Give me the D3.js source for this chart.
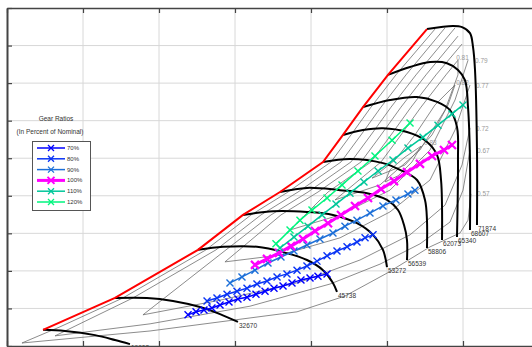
<!DOCTYPE html>
<html>
<head>
<meta charset="utf-8">
<script src="https://cdn.jsdelivr.net/npm/d3@7/dist/d3.min.js"></script>
<style>
  body { margin: 0; background: #fff; }
  svg { display: block; font-family: "Liberation Sans", Arial, sans-serif; }
</style>
</head>
<body>
<div id="chart"></div>
<script>
// compressor map: corrected flow (x) vs pressure ratio (y)
var flowTicks = [0, 10, 20, 30, 40, 50, 60, 70];
var prTicks = [1, 2, 3, 4, 5, 6, 7, 8, 9, 10];

// surge line
var surge = [[4.74,1.43],[14.21,2.28],[25.13,3.56],[31.05,4.49],[35.92,5.10],[41.58,5.90],[44.21,6.62],[46.84,7.36],[50.13,8.22],[55.26,9.44]];

// speed lines (rpm)
var speedNames = ["19602","32670","45738","53272","56539","58806","62073","65340","68607","71874"];
var speed19602 = [[4.74,1.43],[7.63,1.40],[11.58,1.29],[14.21,1.16],[16.18,1.05]];
var speed32670 = [[14.21,2.28],[18.42,2.28],[21.84,2.20],[25.39,2.04],[28.03,1.85],[30.39,1.64]];
var speed45738 = [[25.13,3.56],[28.42,3.64],[32.89,3.64],[36.32,3.50],[39.47,3.29],[41.58,3.02],[42.89,2.68],[43.42,2.44]];
var speed53272 = [[31.05,4.49],[35.0,4.59],[39.47,4.57],[42.89,4.49],[46.05,4.27],[48.16,3.96],[49.47,3.56],[50.0,3.10]];
var speed56539 = [[35.92,5.10],[39.47,5.21],[43.82,5.15],[47.37,5.07],[50.0,4.89],[51.45,4.62],[52.24,4.22],[52.63,3.82],[52.63,3.29]];
var speed58806 = [[41.58,5.90],[45.13,5.98],[49.47,5.87],[51.71,5.69],[53.95,5.42],[55.0,4.89],[55.26,4.35],[55.26,3.61]];
var speed62073 = [[44.21,6.62],[46.84,6.75],[49.47,6.80],[52.63,6.70],[55.0,6.48],[56.58,6.09],[57.11,5.42],[57.24,4.70],[57.24,3.82]];
var speed65340 = [[46.84,7.36],[50.39,7.55],[53.95,7.63],[56.58,7.50],[58.29,7.28],[59.21,6.83],[59.34,5.95],[59.21,3.90]];
var speed68607 = [[50.13,8.22],[53.03,8.43],[55.66,8.56],[57.89,8.53],[59.34,8.35],[60.26,8.08],[60.66,7.36],[60.92,5.95],[60.92,4.09]];
var speed71874 = [[55.26,9.44],[58.68,9.52],[59.87,9.49],[60.92,9.33],[61.32,8.96],[61.58,8.35],[61.84,6.22],[61.84,4.22]];

// efficiency contours
var effNames = ["0.57","0.67","0.72","0.77","0.79","0.81","0.82","0.83"];
var effLabelPos = [[61.84,4.99],[61.84,6.14],[61.71,6.72],[61.71,7.87],[61.58,8.53],[59.1,8.61],[59.1,7.95],[54.87,6.35]];
var eff057 = [[56.32,9.44],[51.18,8.22],[47.89,7.36],[45.26,6.62],[42.63,5.90],[36.97,5.10],[32.11,4.49],[26.18,3.56],[15.26,2.28],[6.97,1.51],[1.97,1.08],[18.82,1.40],[38.16,1.91],[44.47,2.33],[50.0,2.94],[55.66,3.64],[59.61,4.01],[60.66,4.35],[61.05,5.05]];
var eff067 = [[57.63,9.47],[52.5,8.22],[49.21,7.36],[46.58,6.62],[43.95,5.90],[38.29,5.10],[33.42,4.49],[27.5,3.56],[16.58,2.28],[6.32,1.27],[18.82,1.59],[31.97,2.06],[42.5,2.65],[49.08,3.18],[54.34,3.72],[58.29,4.30],[60.0,5.15],[60.92,6.22]];
var eff072 = [[58.95,9.47],[53.82,8.22],[50.53,7.36],[47.89,6.62],[45.26,5.90],[39.61,5.10],[34.74,4.49],[28.82,3.56],[17.89,1.83],[28.03,2.22],[38.55,2.70],[46.45,3.29],[53.03,3.96],[57.63,4.75],[59.87,5.82],[60.92,6.80]];
var eff077 = [[59.34,9.25],[55.13,8.22],[51.84,7.36],[49.21,6.62],[46.58,5.90],[40.92,5.10],[36.05,4.49],[28.68,3.24],[35.92,3.42],[43.82,3.88],[50.39,4.57],[55.66,5.42],[58.95,6.75],[60.92,7.95]];
var eff079 = [[59.87,9.04],[56.45,8.22],[53.16,7.36],[50.53,6.62],[47.89,5.90],[42.24,5.10],[37.24,4.09],[43.82,4.49],[50.39,5.15],[55.66,6.22],[58.95,7.55],[60.66,8.61]];
var eff081 = [[59.34,8.61],[57.76,8.22],[54.47,7.36],[51.84,6.62],[49.21,5.90],[43.16,4.89],[49.08,5.29],[54.34,6.22],[57.63,7.28],[59.34,8.22],[59.34,8.61]];
var eff082 = [[58.95,7.95],[56.32,7.42],[53.68,6.62],[51.05,5.95],[48.03,5.47],[52.37,5.82],[55.92,6.62],[58.03,7.42],[58.95,7.95]];
var eff083 = [[54.47,6.32],[52.37,6.03],[50.39,5.69],[49.74,5.37],[51.45,5.53],[53.29,5.90],[54.47,6.32]];

// operating lines for each gear ratio
var gearNames = ["70%","80%","90%","100%","110%","120%"];
var gear70 = [[23.82,1.83],[24.87,1.91],[25.92,1.96],[26.97,2.01],[28.03,2.09],[29.21,2.17],[30.39,2.25],[31.58,2.30],[32.76,2.38],[33.95,2.46],[35.13,2.54],[36.32,2.60],[37.5,2.68],[38.68,2.76],[39.87,2.81],[40.92,2.86],[42.11,2.92]];
var gear80 = [[26.32,2.20],[27.63,2.28],[28.95,2.38],[30.26,2.46],[31.58,2.54],[32.89,2.65],[34.21,2.73],[35.53,2.84],[36.84,2.92],[38.16,3.02],[39.47,3.13],[40.79,3.26],[42.11,3.40],[43.42,3.53],[44.74,3.64],[46.05,3.77],[47.11,3.88],[48.16,3.96]];
var gear90 = [[29.34,2.68],[30.92,2.84],[32.63,3.02],[34.34,3.21],[36.05,3.37],[37.76,3.53],[39.47,3.69],[41.18,3.85],[42.89,4.01],[44.47,4.19],[46.05,4.35],[47.76,4.54],[49.47,4.73],[51.18,4.89],[52.76,5.05],[53.68,5.15]];
var gear100 = [[32.63,3.16],[34.21,3.32],[35.79,3.48],[37.37,3.66],[38.95,3.85],[40.53,4.06],[42.24,4.27],[43.95,4.49],[45.79,4.73],[47.5,4.94],[49.21,5.18],[50.92,5.39],[52.63,5.63],[54.34,5.85],[55.92,6.06],[57.5,6.22],[58.55,6.35]];
var gear110 = [[35.92,3.61],[37.76,3.90],[39.61,4.19],[41.45,4.49],[43.29,4.78],[45.13,5.07],[46.97,5.37],[48.82,5.66],[50.79,5.95],[52.76,6.27],[54.74,6.56],[56.71,6.88],[58.55,7.18],[60.0,7.42]];
var gear120 = [[35.39,3.72],[37.24,4.09],[38.55,4.35],[40.13,4.62],[42.11,4.94],[44.08,5.29],[46.18,5.66],[48.42,6.06],[50.66,6.48],[53.03,6.94]];

var gearColors = ["#0000ff", "#0a34f5", "#1c6fd8", "#ff00ff", "#00c79a", "#00f57e"];

var width = 532, height = 347;

var x = d3.scaleLinear().domain([0, 70]).range([7, 539]);
var y = d3.scaleLinear().domain([1, 10]).range([346, 8]);

var svg = d3.select("#chart")
  .append("svg")
  .attr("width", width)
  .attr("height", height);

// grid
svg.append("g")
  .selectAll("line")
  .data(flowTicks.slice(1))
  .join("line")
    .attr("x1", d => x(d)).attr("x2", d => x(d))
    .attr("y1", y(10)).attr("y2", y(1))
    .attr("stroke", "#d8d8d8").attr("stroke-width", 1);

svg.append("g")
  .selectAll("line")
  .data(prTicks.slice(1, -1))
  .join("line")
    .attr("x1", x(0)).attr("x2", width)
    .attr("y1", d => y(d)).attr("y2", d => y(d))
    .attr("stroke", "#d8d8d8").attr("stroke-width", 1);

var line = d3.line().x(d => x(d[0])).y(d => y(d[1]));
var smooth = d3.line().x(d => x(d[0])).y(d => y(d[1])).curve(d3.curveCatmullRom.alpha(0.5));

// efficiency contours
var effData = [eff057, eff067, eff072, eff077, eff079, eff081, eff082, eff083];
svg.append("g")
  .selectAll("path")
  .data(effData)
  .join("path")
    .attr("d", line)
    .attr("fill", "none")
    .attr("stroke", "#6e6e6e")
    .attr("stroke-width", 0.8);

svg.append("g")
  .selectAll("text")
  .data(effNames)
  .join("text")
    .attr("x", (d, i) => x(effLabelPos[i][0]))
    .attr("y", (d, i) => y(effLabelPos[i][1]))
    .attr("font-size", 6.5)
    .attr("fill", "#9a9a9a")
    .text(d => d);

// speed lines
var speedData = [speed19602, speed32670, speed45738, speed53272, speed56539, speed58806, speed62073, speed65340, speed68607, speed71874];
svg.append("g")
  .selectAll("path")
  .data(speedData)
  .join("path")
    .attr("d", smooth)
    .attr("fill", "none")
    .attr("stroke", "#000")
    .attr("stroke-width", 2);

svg.append("g")
  .selectAll("text")
  .data(speedNames)
  .join("text")
    .attr("x", (d, i) => x(speedData[i][speedData[i].length - 1][0]) + 1)
    .attr("y", (d, i) => y(speedData[i][speedData[i].length - 1][1]) + 6)
    .attr("font-size", 6.5)
    .attr("fill", "#333")
    .text(d => d);

// surge line
svg.append("path")
  .datum(surge)
  .attr("d", line)
  .attr("fill", "none")
  .attr("stroke", "#ff0000")
  .attr("stroke-width", 2);

// gear ratio operating lines
var gearData = [gear70, gear80, gear90, gear100, gear110, gear120];
var xMark = s => `M${-s},${-s}L${s},${s}M${-s},${s}L${s},${-s}`;

gearData.forEach((pts, i) => {
  var big = gearNames[i] == "100%";
  var g = svg.append("g");
  g.append("path")
    .datum(pts)
    .attr("d", line)
    .attr("fill", "none")
    .attr("stroke", gearColors[i])
    .attr("stroke-width", big ? 3 : 1.5);
  g.selectAll("path.mk")
    .data(pts)
    .join("path")
      .attr("class", "mk")
      .attr("transform", d => `translate(${x(d[0])},${y(d[1])})`)
      .attr("d", xMark(big ? 4 : 3.5))
      .attr("stroke", gearColors[i])
      .attr("stroke-width", big ? 2.2 : 1.4);
});

// axes (ticks inside, no labels)
svg.append("g")
  .attr("transform", `translate(0,${y(10)})`)
  .call(d3.axisBottom(x).tickValues(flowTicks).tickSize(5).tickSizeOuter(0).tickFormat(""))
  .call(g => g.select(".domain").attr("stroke", "#444").attr("stroke-width", 1.5))
  .call(g => g.selectAll(".tick line").attr("stroke", "#444").attr("stroke-width", 1.2));

svg.append("g")
  .attr("transform", `translate(0,${y(1)})`)
  .call(d3.axisTop(x).tickValues(flowTicks).tickSize(5).tickSizeOuter(0).tickFormat(""))
  .call(g => g.select(".domain").attr("stroke", "#444").attr("stroke-width", 1.5))
  .call(g => g.selectAll(".tick line").attr("stroke", "#444").attr("stroke-width", 1.2));

svg.append("g")
  .attr("transform", `translate(${x(0)},0)`)
  .call(d3.axisRight(y).tickValues(prTicks).tickSize(5).tickSizeOuter(0).tickFormat(""))
  .call(g => g.select(".domain").attr("stroke", "#444").attr("stroke-width", 2))
  .call(g => g.selectAll(".tick line").attr("stroke", "#444").attr("stroke-width", 1.2));

// legend
var lg = svg.append("g").attr("font-size", 6).attr("fill", "#333");
lg.append("text").attr("x", 56).attr("y", 121).attr("font-size", 6.5).attr("text-anchor", "middle").text("Gear Ratios");
lg.append("text").attr("x", 50).attr("y", 134).attr("font-size", 6.5).attr("text-anchor", "middle").text("(In Percent of Nominal)");
lg.append("rect")
  .attr("x", 32.5).attr("y", 141.5).attr("width", 58).attr("height", 69)
  .attr("fill", "#fff").attr("stroke", "#555").attr("stroke-width", 1);

var item = lg.selectAll("g.item")
  .data(gearNames)
  .join("g")
    .attr("class", "item")
    .attr("transform", (d, i) => `translate(0,${148 + i * 10.8})`);
item.append("line")
  .attr("x1", 37).attr("x2", 65)
  .attr("stroke", (d, i) => gearColors[i])
  .attr("stroke-width", d => d == "100%" ? 3 : 1.5);
item.append("path")
  .attr("transform", "translate(51,0)")
  .attr("d", d => xMark(d == "100%" ? 3.5 : 3))
  .attr("stroke", (d, i) => gearColors[i])
  .attr("stroke-width", d => d == "100%" ? 2 : 1.3);
item.append("text")
  .attr("x", 67).attr("y", 2)
  .text(d => d);
</script>
</body>
</html>
